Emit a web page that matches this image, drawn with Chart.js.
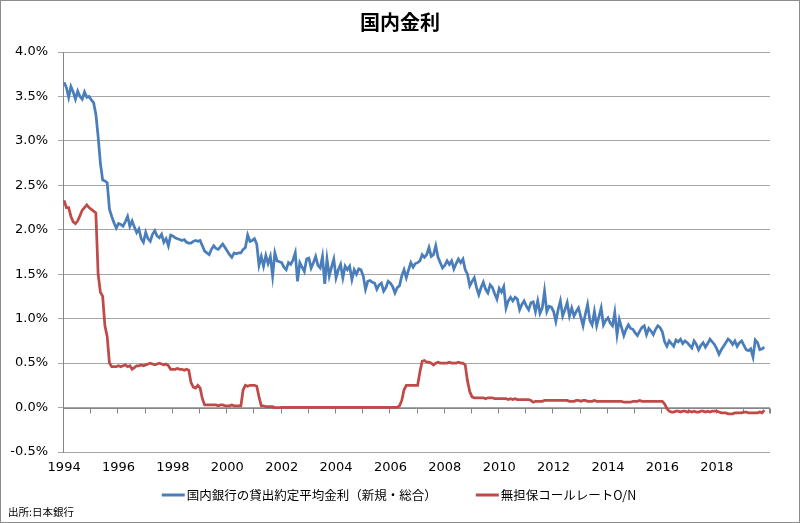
<!DOCTYPE html>
<html>
<head>
<meta charset="utf-8">
<script src="https://cdn.jsdelivr.net/npm/chart.js@4.4.1/dist/chart.umd.min.js"></script>
<style>
  html, body { margin: 0; padding: 0; background: #fff; }
  canvas { display: block; }
</style>
</head>
<body>
<canvas id="rateChart" width="800" height="523"></canvas>
<script>
// monthly data, Jan 1994 onward (%)
const startYear = 1994;
const yearTicks = [1994, 1996, 1998, 2000, 2002, 2004, 2006, 2008, 2010, 2012, 2014, 2016, 2018];
const rateTicks = [-0.5, 0, 0.5, 1, 1.5, 2, 2.5, 3, 3.5, 4];

const chartTitle = '国内金利';
const sourceNote = '出所:日本銀行';
const loanLabel = '国内銀行の貸出約定平均金利（新規・総合）';
const callLabel = '無担保コールレートO/N';

const loanRate = [
  3.66, 3.60, 3.49, 3.61, 3.55, 3.47, 3.56, 3.50, 3.47, 3.55, 3.49, 3.50, // 1994
  3.46, 3.43, 3.30, 3.05, 2.75, 2.56, 2.55, 2.53, 2.23, 2.15, 2.08, 2.02, // 1995
  2.07, 2.06, 2.04, 2.09, 2.15, 2.04, 2.10, 2.03, 1.97, 2.01, 1.90, 1.86,
  1.97, 1.90, 1.87, 1.95, 1.99, 1.93, 1.91, 1.95, 1.86, 1.90, 1.82, 1.94,
  1.93, 1.91, 1.90, 1.89, 1.88, 1.89, 1.86, 1.85, 1.85, 1.87, 1.88, 1.87,
  1.88, 1.82, 1.76, 1.74, 1.72, 1.78, 1.82, 1.79, 1.78, 1.81, 1.84, 1.80,
  1.76, 1.72, 1.69, 1.74, 1.73, 1.74, 1.74, 1.78, 1.80, 1.94, 1.87, 1.88, // 2000
  1.90, 1.84, 1.60, 1.70, 1.59, 1.71, 1.62, 1.70, 1.48, 1.74, 1.65, 1.64,
  1.63, 1.58, 1.55, 1.63, 1.61, 1.66, 1.74, 1.42, 1.63, 1.58, 1.53, 1.67,
  1.68, 1.57, 1.63, 1.70, 1.60, 1.57, 1.70, 1.39, 1.67, 1.48, 1.58, 1.67,
  1.46, 1.55, 1.61, 1.46, 1.59, 1.55, 1.59, 1.44, 1.55, 1.50, 1.56, 1.55,
  1.48, 1.33, 1.42, 1.43, 1.41, 1.40, 1.33, 1.38, 1.40, 1.31, 1.35, 1.42, // 2005
  1.40, 1.36, 1.29, 1.35, 1.37, 1.48, 1.55, 1.46, 1.55, 1.63, 1.58, 1.62,
  1.63, 1.65, 1.72, 1.69, 1.72, 1.80, 1.70, 1.72, 1.82, 1.69, 1.63, 1.57,
  1.60, 1.65, 1.61, 1.65, 1.56, 1.62, 1.67, 1.63, 1.67, 1.55, 1.50, 1.37,
  1.42, 1.46, 1.35, 1.27, 1.35, 1.41, 1.33, 1.29, 1.38, 1.35, 1.28, 1.22,
  1.34, 1.30, 1.36, 1.12, 1.20, 1.24, 1.20, 1.24, 1.22, 1.10, 1.16, 1.20, // 2010
  1.14, 1.10, 1.18, 1.19, 1.08, 1.20, 1.06, 1.12, 1.31, 1.08, 1.14, 1.13,
  1.08, 0.97, 1.10, 1.20, 1.03, 1.10, 1.18, 1.03, 1.12, 1.03, 1.08, 1.12,
  1.02, 0.92, 1.05, 1.16, 0.98, 0.93, 1.08, 0.92, 1.02, 1.12, 0.93, 0.98,
  1.01, 0.95, 0.92, 1.07, 0.82, 0.99, 0.90, 0.81, 0.88, 0.93, 0.89, 0.88,
  0.84, 0.81, 0.86, 0.90, 0.92, 0.82, 0.89, 0.86, 0.82, 0.88, 0.92, 0.90, // 2015
  0.85, 0.74, 0.69, 0.75, 0.72, 0.69, 0.76, 0.74, 0.77, 0.72, 0.75, 0.73,
  0.70, 0.67, 0.75, 0.71, 0.65, 0.70, 0.73, 0.68, 0.72, 0.77, 0.74, 0.71,
  0.66, 0.60, 0.65, 0.69, 0.73, 0.77, 0.75, 0.71, 0.75, 0.69, 0.73, 0.75,
  0.70, 0.65, 0.64, 0.66, 0.57, 0.76, 0.73, 0.65, 0.66, 0.68              // 2019
];

const callRate = [
  2.33, 2.25, 2.25, 2.15, 2.09, 2.07, 2.10, 2.16, 2.22, 2.25, 2.28, 2.25, // 1994
  2.23, 2.21, 2.19, 1.50, 1.30, 1.25, 0.92, 0.80, 0.50, 0.46, 0.46, 0.46, // 1995
  0.47, 0.46, 0.47, 0.48, 0.46, 0.47, 0.43, 0.45, 0.47, 0.47, 0.48, 0.47,
  0.48, 0.49, 0.50, 0.49, 0.48, 0.49, 0.50, 0.49, 0.48, 0.49, 0.47, 0.43,
  0.43, 0.43, 0.44, 0.43, 0.43, 0.42, 0.43, 0.42, 0.28, 0.23, 0.22, 0.25,
  0.22, 0.10, 0.03, 0.03, 0.03, 0.03, 0.03, 0.03, 0.02, 0.03, 0.03, 0.02,
  0.02, 0.02, 0.03, 0.02, 0.02, 0.02, 0.02, 0.20, 0.25, 0.24, 0.25, 0.25, // 2000
  0.25, 0.24, 0.12, 0.02, 0.02, 0.01, 0.01, 0.01, 0.01, 0.00, 0.00, 0.00,
  0.002, 0.002, 0.002, 0.002, 0.002, 0.002, 0.001, 0.001, 0.001, 0.001, 0.001, 0.001,
  0.001, 0.001, 0.001, 0.001, 0.001, 0.001, 0.001, 0.001, 0.001, 0.001, 0.001, 0.001,
  0.001, 0.001, 0.001, 0.001, 0.001, 0.001, 0.001, 0.001, 0.001, 0.001, 0.001, 0.001,
  0.001, 0.001, 0.001, 0.001, 0.001, 0.001, 0.001, 0.001, 0.001, 0.001, 0.001, 0.001, // 2005
  0.001, 0.001, 0.002, 0.002, 0.02, 0.08, 0.20, 0.25, 0.25, 0.25, 0.25, 0.25,
  0.25, 0.40, 0.52, 0.53, 0.51, 0.51, 0.50, 0.48, 0.50, 0.51, 0.50, 0.50,
  0.50, 0.50, 0.51, 0.50, 0.50, 0.50, 0.51, 0.50, 0.50, 0.48, 0.30, 0.18,
  0.12, 0.11, 0.11, 0.11, 0.11, 0.11, 0.10, 0.11, 0.11, 0.11, 0.10, 0.10,
  0.10, 0.10, 0.10, 0.10, 0.09, 0.10, 0.09, 0.10, 0.09, 0.09, 0.09, 0.09, // 2010
  0.09, 0.09, 0.08, 0.06, 0.07, 0.07, 0.07, 0.07, 0.08, 0.08, 0.08, 0.08,
  0.08, 0.08, 0.08, 0.08, 0.08, 0.08, 0.08, 0.07, 0.07, 0.07, 0.08, 0.08,
  0.07, 0.08, 0.08, 0.07, 0.07, 0.07, 0.08, 0.07, 0.07, 0.07, 0.07, 0.07,
  0.07, 0.07, 0.07, 0.07, 0.07, 0.07, 0.07, 0.06, 0.06, 0.06, 0.06, 0.07,
  0.07, 0.07, 0.08, 0.07, 0.07, 0.07, 0.07, 0.07, 0.07, 0.07, 0.07, 0.07, // 2015
  0.07, 0.04, -0.01, -0.04, -0.05, -0.05, -0.04, -0.04, -0.05, -0.04, -0.04, -0.05,
  -0.04, -0.05, -0.04, -0.05, -0.05, -0.04, -0.04, -0.05, -0.04, -0.05, -0.04, -0.04,
  -0.04, -0.05, -0.06, -0.06, -0.06, -0.07, -0.07, -0.07, -0.06, -0.06, -0.06, -0.06,
  -0.05, -0.05, -0.06, -0.06, -0.06, -0.06, -0.06, -0.05, -0.06, -0.03             // 2019
];

const toPoints = arr => arr.map((v, i) => ({ x: startYear + i / 12, y: v }));

const LOAN_COLOR = '#4A7EBB';
const CALL_COLOR = '#BE4B48';
const JP_FONT = '"Noto Sans CJK JP", sans-serif';
const NUM_FONT = '"DejaVu Sans", sans-serif';

// white background, title and outer frame
const framePlugin = {
  id: 'frame',
  beforeDraw(chart) {
    const ctx = chart.ctx;
    ctx.save();
    ctx.fillStyle = '#fff';
    ctx.fillRect(0, 0, chart.width, chart.height);
    ctx.restore();
  },
  afterDraw(chart) {
    const ctx = chart.ctx;
    ctx.save();
    ctx.fillStyle = '#000';
    ctx.font = 'bold 20px ' + JP_FONT;
    ctx.textAlign = 'center';
    ctx.textBaseline = 'middle';
    ctx.fillText(chartTitle, chart.width / 2, 22);
    ctx.strokeStyle = '#8c8c8c';
    ctx.lineWidth = 1;
    ctx.strokeRect(0.5, 0.5, chart.width - 1, chart.height - 1);
    ctx.restore();
  }
};

// horizontal axis line sits on 0%, with yearly tick marks
const zeroAxisPlugin = {
  id: 'zeroAxis',
  beforeDatasetsDraw(chart) {
    const { ctx, chartArea, scales } = chart;
    const y0 = Math.round(scales.y.getPixelForValue(0)) + 0.5;
    ctx.save();
    ctx.strokeStyle = '#868686';
    ctx.lineWidth = 1;
    ctx.beginPath();
    ctx.moveTo(chartArea.left, y0);
    ctx.lineTo(chartArea.right, y0);
    for (let yr = startYear + 1; yr <= startYear + 26; yr++) {
      const px = Math.round(scales.x.getPixelForValue(yr - 1 / 24)) + 0.5;
      if (px > chartArea.right + 1) break;
      ctx.moveTo(px, y0);
      ctx.lineTo(px, y0 + 5);
    }
    ctx.moveTo(chartArea.right - 0.5, y0);
    ctx.lineTo(chartArea.right - 0.5, y0 + 5);
    ctx.stroke();
    ctx.restore();
  }
};

// legend + source note drawn by hand (Excel-like spacing)
const footerPlugin = {
  id: 'footer',
  afterDraw(chart) {
    const ctx = chart.ctx;
    const items = chart.data.datasets.map(ds => ({ text: ds.label, color: ds.borderColor }));
    ctx.save();
    ctx.font = '12.5px ' + JP_FONT;
    ctx.textBaseline = 'middle';
    const lineLen = 23, textGap = 2, itemGap = 39;
    const widths = items.map(it => ctx.measureText(it.text).width);
    let total = 0;
    widths.forEach((w, i) => { total += lineLen + textGap + w + (i ? itemGap : 0); });
    let x = 399 - total / 2;
    const y = 495;
    items.forEach((it, i) => {
      ctx.strokeStyle = it.color;
      ctx.lineWidth = 3;
      ctx.beginPath();
      ctx.moveTo(x, y);
      ctx.lineTo(x + lineLen, y);
      ctx.stroke();
      x += lineLen + textGap;
      ctx.fillStyle = '#000';
      ctx.fillText(it.text, x, y);
      x += widths[i] + itemGap;
    });
    ctx.font = '10.5px ' + JP_FONT;
    ctx.fillText(sourceNote, 8, 512);
    ctx.restore();
  }
};

new Chart(document.getElementById('rateChart'), {
  type: 'line',
  data: {
    datasets: [
      {
        label: loanLabel,
        data: toPoints(loanRate),
        borderColor: LOAN_COLOR,
        backgroundColor: LOAN_COLOR,
        borderWidth: 2.75,
        pointRadius: 0,
        tension: 0
      },
      {
        label: callLabel,
        data: toPoints(callRate),
        borderColor: CALL_COLOR,
        backgroundColor: CALL_COLOR,
        borderWidth: 2.75,
        pointRadius: 0,
        tension: 0
      }
    ]
  },
  options: {
    responsive: false,
    animation: false,
    layout: { padding: { left: 0, right: 30, top: 52, bottom: 0 } },
    plugins: {
      legend: { display: false },
      tooltip: { enabled: false },
      title: { display: false }
    },
    scales: {
      x: {
        type: 'linear',
        min: startYear - 1 / 24,
        max: startYear + 311.5 / 12,
        afterBuildTicks(scale) {
          scale.ticks = yearTicks.map(v => ({ value: v }));
        },
        afterFit(scale) { scale.height = 71; },
        grid: { display: false, drawTicks: false },
        border: { display: false },
        ticks: {
          autoSkip: false,
          maxRotation: 0,
          padding: 8,
          color: '#000',
          font: { family: NUM_FONT, size: 13 },
          callback: v => String(v)
        }
      },
      y: {
        min: -0.5,
        max: 4,
        afterBuildTicks(scale) {
          scale.ticks = rateTicks.map(v => ({ value: v }));
        },
        afterFit(scale) { scale.width = 63; },
        grid: { color: '#a6a6a6', lineWidth: 1, tickLength: 5, drawTicks: true },
        border: { display: true, color: '#868686', width: 1 },
        ticks: {
          padding: 10,
          color: '#000',
          font: { family: NUM_FONT, size: 13 },
          callback: v => v.toFixed(1) + '%'
        }
      }
    }
  },
  plugins: [framePlugin, zeroAxisPlugin, footerPlugin]
});
</script>
</body>
</html>
